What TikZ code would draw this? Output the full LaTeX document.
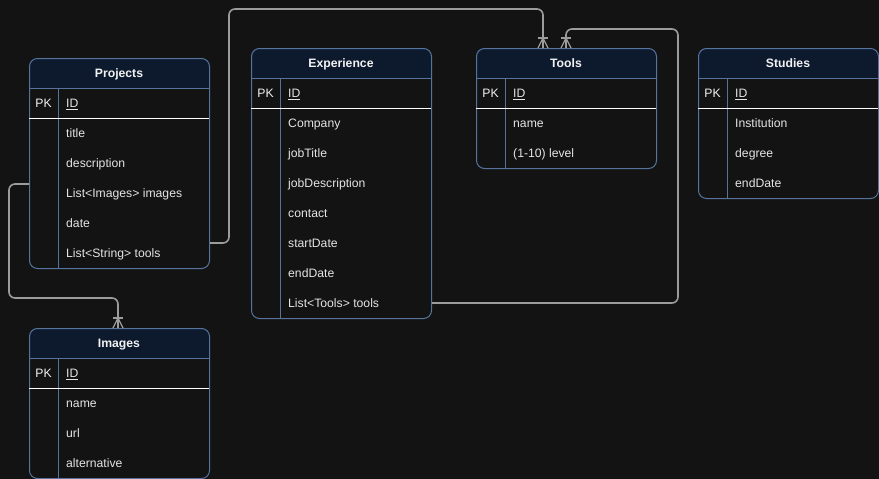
\documentclass[tikz,border=0pt]{standalone}
\usepackage{fontspec}
\setmainfont{Liberation Sans}
\usetikzlibrary{calc}
\definecolor{bg}{HTML}{131313}
\definecolor{hdr}{HTML}{0D1A2E}
\definecolor{bord}{HTML}{56739C}
\definecolor{txt}{HTML}{F2F2F2}
\definecolor{rowc}{HTML}{E4E4E4}
\definecolor{conn}{HTML}{9C9C9C}
\tikzset{
  tbox/.style={draw=bord, line width=1pt, rounded corners=8pt, minimum width=180pt, inner sep=0pt, anchor=north west},
  inner/.style={draw=bord, line width=1pt},
  pkline/.style={draw=white, line width=1pt},
  titletxt/.style={text=txt, font=\fontsize{12.2}{14}\selectfont\bfseries, inner sep=0pt, anchor=base},
  pktxt/.style={text=txt, font=\fontsize{12.2}{14}\selectfont, inner sep=0pt, anchor=base},
  rowtxt/.style={text=rowc, font=\fontsize{12.2}{14}\selectfont, inner sep=0pt, anchor=base west},
  conn/.style={draw=conn, line width=1.6pt, rounded corners=6pt},
  foot/.style={draw=conn, line width=1.3pt}
}
\newcommand\ertable[6]{%
  \pgfmathsetmacro\tH{60+30*#4}
  \begin{scope}
    \clip[rounded corners=8pt] (#2,#3) rectangle (#2+180,#3+\tH);
    \fill[hdr] (#2,#3) rectangle (#2+180,#3+30);
  \end{scope}
  \node[tbox, minimum height=\tH pt] (#1) at (#2,#3) {};
  \draw[inner] (#2,#3+30) -- (#2+180,#3+30);
  \draw[inner] (#2+29,#3+30) -- (#2+29,#3+\tH);
  \draw[pkline] (#2,#3+60) -- (#2+180,#3+60);
  \node[titletxt] (#1-title) at (#2+90,#3+19.3) {#5};
  \node[pktxt] (#1-pk) at (#2+14.5,#3+49.3) {PK};
  \node[rowtxt] (#1-id) at (#2+37,#3+49.3) {\underline{ID}};
  \foreach \r [count=\i] in {#6} {
    \node[rowtxt] (#1-r\i) at (#2+37,#3+49.3+30*\i) {\r};
  }
}
\newcommand\crowfoot[1]{%
  \draw[foot] ($(#1)+(-5,-10)$) -- ($(#1)+(5,-10)$);
  \draw[foot] ($(#1)+(-5,0)$) -- ($(#1)+(0,-10)$) -- ($(#1)+(5,0)$);
  \draw[foot] ($(#1)+(0,0)$) -- ($(#1)+(0,-10)$);
}
\begin{document}
\begin{tikzpicture}[x=1pt,y=-1pt]
  \fill[bg] (0,0) rectangle (879,479);
  \useasboundingbox (0,0) rectangle (879,479);

  \ertable{projects}{29}{58}{5}{Projects}{title,description,List<Images> images,date,List<String> tools}
  \ertable{experience}{251}{48}{7}{Experience}{Company,jobTitle,jobDescription,contact,startDate,endDate,List<Tools> tools}
  \ertable{tools}{476}{48}{2}{Tools}{name,{(1-10) level}}
  \ertable{studies}{698}{48}{3}{Studies}{Institution,degree,endDate}
  \ertable{images}{29}{328}{3}{Images}{name,url,alternative}

  \coordinate (t1) at ($(tools.north west)+(67,0)$);
  \coordinate (t2) at ($(tools.north west)+(90,0)$);
  \coordinate (im) at ($(images.north west)+(89,0)$);

  \draw[conn] ($(projects.north east)+(0,185)$) -| (229,9) -| (t1);
  \draw[conn] ($(experience.north east)+(0,255)$) -| (678,29) -| (t2);
  \draw[conn] ($(projects.north west)+(0,126)$) -| (9,298) -| (im);

  \crowfoot{t1}
  \crowfoot{t2}
  \crowfoot{im}
\end{tikzpicture}
\end{document}
